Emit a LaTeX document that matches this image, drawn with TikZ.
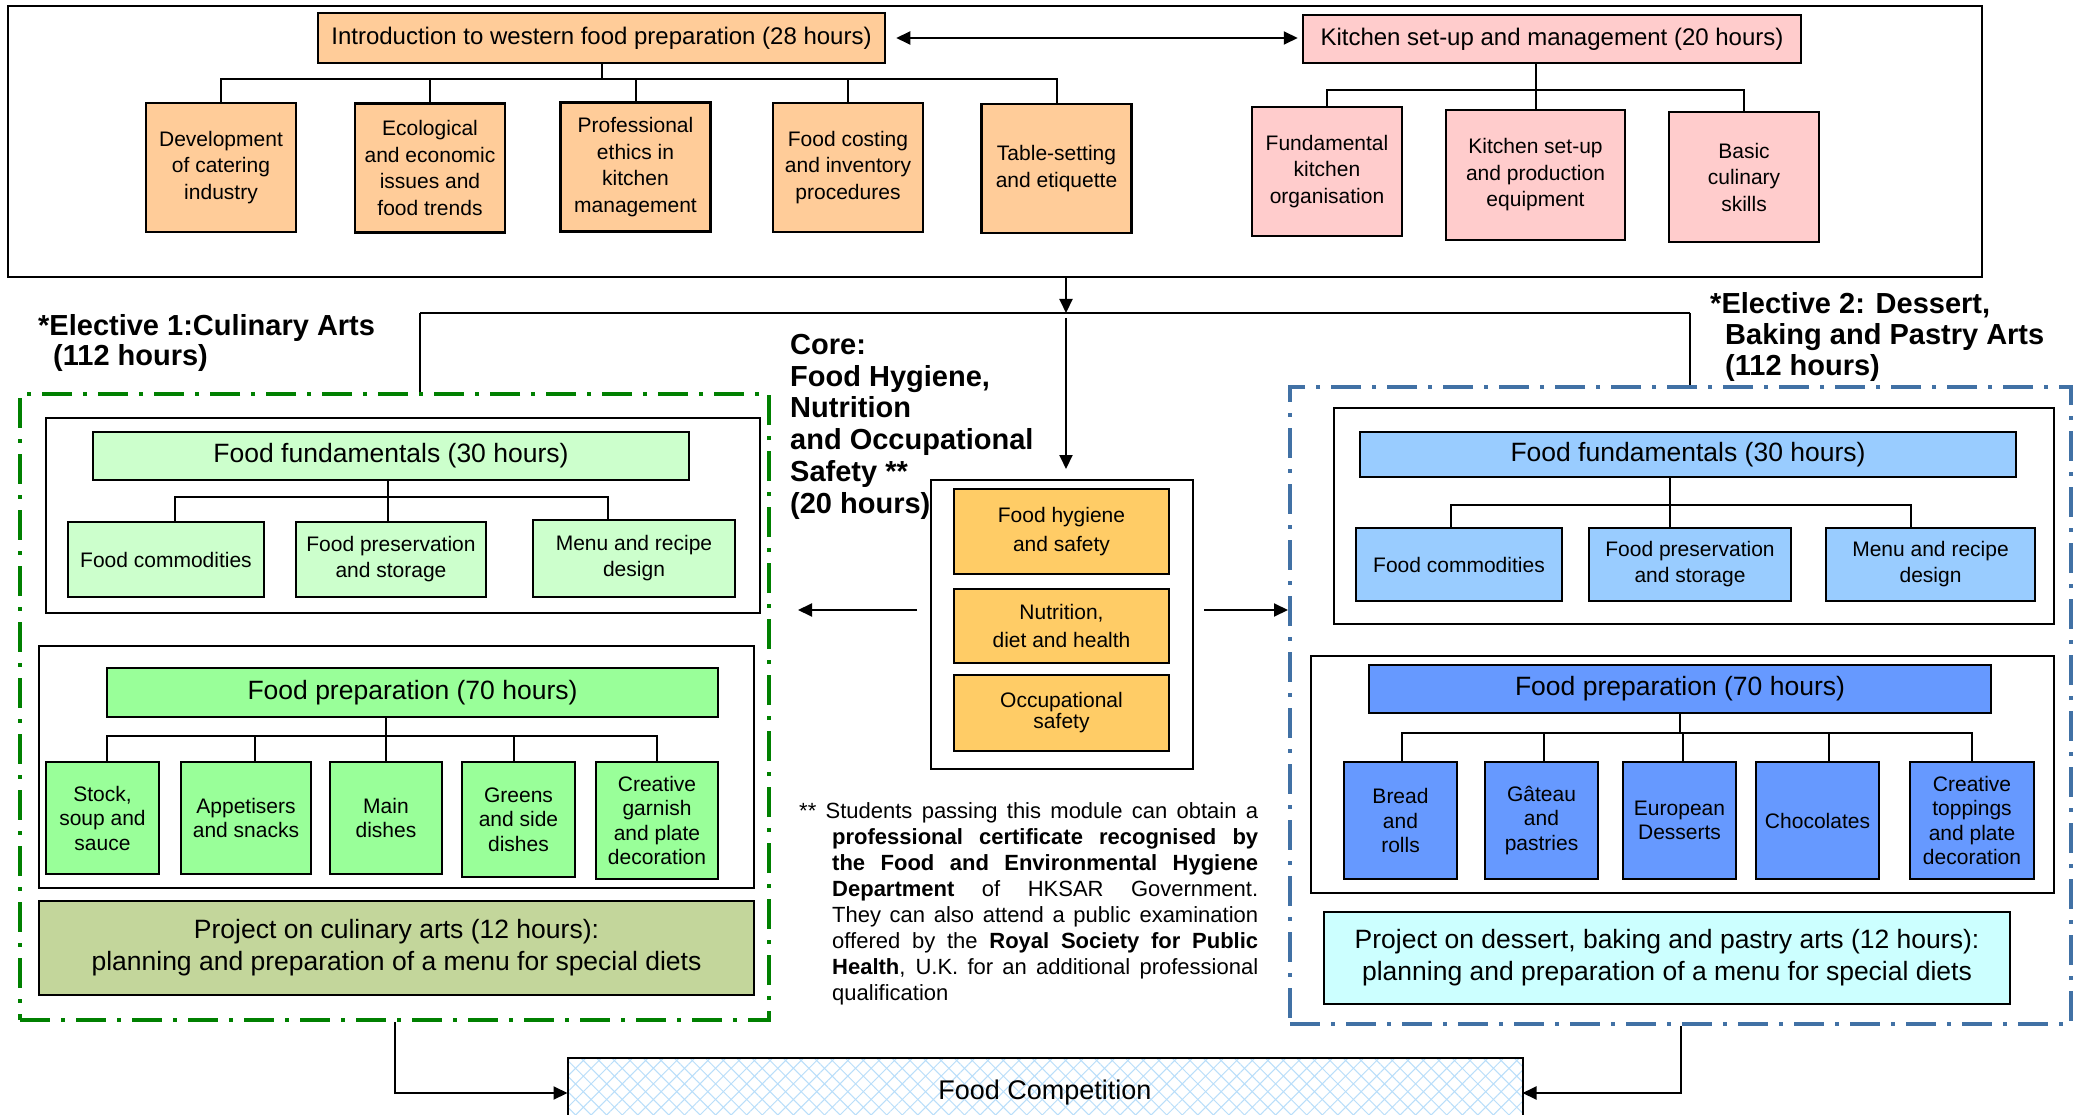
\documentclass[tikz,border=0pt]{standalone}
\usepackage{fontspec}
\setmainfont{Liberation Sans}
\usetikzlibrary{arrows.meta,patterns.meta}
\newcommand\fsz[2]{\fontsize{#1pt}{#2pt}\selectfont}
\definecolor{orng}{RGB}{255,204,153}
\definecolor{pnk}{RGB}{255,204,204}
\definecolor{corec}{RGB}{255,204,102}
\definecolor{lgreen}{RGB}{204,255,204}
\definecolor{mgreen}{RGB}{153,255,153}
\definecolor{olivec}{RGB}{195,214,155}
\definecolor{lblue}{RGB}{153,204,255}
\definecolor{mblue}{RGB}{102,153,255}
\definecolor{cyanl}{RGB}{204,255,255}
\definecolor{dgreen}{RGB}{0,128,0}
\definecolor{dblue}{RGB}{65,113,165}
\definecolor{hatchc}{RGB}{185,222,250}
\tikzset{
  bx/.style={draw, line width=2.5pt, inner sep=0pt, align=center, font=\fsz{21}{26}},
  hd/.style={bx, font=\fsz{26.5}{30}},
  cn/.style={line width=2pt},
  arr/.style={line width=2pt, -{Triangle[length=14pt,width=13pt]}},
  wbox/.style={draw, line width=2.5pt, inner sep=0pt},
  dd/.style={line width=4pt, dash pattern=on 30pt off 11pt on 4pt off 11pt},
  lbl/.style={anchor=base west, align=left, inner sep=0pt},
}
\begin{document}
\begin{tikzpicture}[x=1pt,y=-1pt]
\useasboundingbox (0,0) rectangle (2078,1115);
\fill[white] (0,0) rectangle (2078,1115);
\clip (0,0) rectangle (2078,1115);

% ---------------- top panel ----------------
\node[draw, line width=1.5pt, minimum width=1974, minimum height=271, inner sep=0pt] (top) at (995,141.5) {};
\node[bx, font=\fsz{24}{28}, fill=orng, minimum width=567, minimum height=50] (intro) at (601.5,38) {Introduction to western food preparation (28 hours)};
\node[bx, font=\fsz{24}{28}, fill=pnk, minimum width=498, minimum height=48] (kitchen) at (1552,39) {Kitchen set-up and management (20 hours)};

\tikzset{tb/.style={bx, font=\fsz{21}{26.5}, minimum width=150, minimum height=129}}
\node[tb, fill=orng] (tc1) at (221,167.5) {Development\\of catering\\industry};
\node[tb, fill=orng] (tc2) at (430,168) {Ecological\\and economic\\issues and\\food trends};
\node[tb, fill=orng] (tc3) at (635.5,167) {Professional\\ethics in\\kitchen\\management};
\node[tb, fill=orng] (tc4) at (848,167.5) {Food costing\\and inventory\\procedures};
\node[tb, fill=orng] (tc5) at (1056.5,168.5) {Table-setting\\and etiquette};
\node[tb, fill=pnk] (tk1) at (1327,171.5) {Fundamental\\kitchen\\organisation};
\node[tb, fill=pnk, minimum width=179, minimum height=130] (tk2) at (1535.5,175) {Kitchen set-up\\and production\\equipment};
\node[tb, fill=pnk, minimum height=130] (tk3) at (1744,177) {Basic\\culinary\\skills};

\coordinate (bus1) at (0,79);
\coordinate (bus2) at (0,90);
\foreach \c in {tc1,tc2,tc3,tc4,tc5}
  \draw[cn] (intro.south) -- (intro.south |- bus1) -| (\c.north);
\draw[cn] (tk2.north) -- (tk2.north |- kitchen.south);
\draw[cn] (tk2.north |- bus2) -| (tk1.north);
\draw[cn] (tk2.north |- bus2) -| (tk3.north);

\draw[line width=2pt, {Triangle[length=14pt,width=13pt]}-{Triangle[length=14pt,width=13pt]}, shorten <=10pt, shorten >=4pt] (intro.east) -- (intro.east -| kitchen.west);

% ---------------- frames ----------------
\node[draw=dgreen, dd, minimum width=749, minimum height=626, inner sep=0pt] (gbox) at (394.5,707) {};
\node[draw=dblue, dd, minimum width=781, minimum height=637, inner sep=0pt] (bbox) at (1680.5,705.5) {};

% ---------------- middle connectors ----------------
\coordinate (hj) at (1066,313);
\coordinate (hl) at (420,313);
\coordinate (hr) at (1690,313);
\draw[arr] (top.south -| hj) -- (hj);
\draw[cn] (hl) -- (hr);
\draw[cn] (hl) -- (hl |- gbox.north);
\draw[cn] (hr) -- (hr |- bbox.north);

% ---------------- core ----------------
\node[wbox, line width=2pt, minimum width=262, minimum height=289] (core) at (1062,624.5) {};
\draw[arr, shorten >=10pt] ([yshift=-5pt]hj) -- (hj |- core.north);
\node[bx, fill=corec, minimum width=215, minimum height=85, font=\fsz{21}{29}] (c1) at (1061.5,531.5) {Food hygiene\\and safety};
\node[bx, fill=corec, minimum width=215, minimum height=74, font=\fsz{21}{28}] (c2) at (1061.5,626) {Nutrition,\\diet and health};
\node[bx, fill=corec, minimum width=215, minimum height=76, font=\fsz{21}{21}] (c3) at (1061.5,713) {Occupational\\safety};
\node[lbl, font=\bfseries\fsz{29}{31.7}] (corelbl) at (790,513) {Core:\\Food Hygiene,\\Nutrition\\and Occupational\\Safety **\\(20 hours)};
\coordinate (lt) at (798,610);
\draw[arr, shorten <=13pt] (core.west |- lt) -- (lt);
\draw[arr, shorten <=10pt] (core.east |- lt) -- (bbox.west |- lt);

% ---------------- elective labels ----------------
\node[lbl, font=\bfseries\fsz{29}{30}] (e1) at (38,365) {*Elective 1:Culinary Arts\\\hspace*{15pt}(112 hours)};
\node[lbl, font=\bfseries\fsz{29}{31}] (e2) at (1710,375) {*Elective 2: Dessert,\\\hspace*{15pt}Baking and Pastry Arts\\\hspace*{15pt}(112 hours)};

% ---------------- green elective ----------------
\node[wbox, minimum width=714, minimum height=195] (gfbox) at (403,515.5) {};
\node[hd, fill=lgreen, minimum width=596, minimum height=48] (gfh) at (391,456) {Food fundamentals (30 hours)};
\node[bx, fill=lgreen, minimum width=196, minimum height=75] (gf1) at (166,559.5) {Food commodities};
\node[bx, fill=lgreen, minimum width=190, minimum height=75] (gf2) at (391,559.5) {Food preservation\\and storage};
\node[bx, fill=lgreen, minimum width=202, minimum height=77] (gf3) at (634,558.5) {Menu and recipe\\design};
\coordinate (bus3) at (0,497);
\draw[cn] ([xshift=-3pt]gfh.south) -- ([xshift=-3pt]gfh.south |- bus3) -| ([xshift=9pt]gf1.north);
\draw[cn] ([xshift=-3pt]gfh.south) -- ([xshift=-3pt]gf2.north);
\draw[cn] ([xshift=-3pt]gfh.south |- bus3) -| ([xshift=-26pt]gf3.north);

\node[wbox, minimum width=715, minimum height=242] (gpbox) at (396.5,767) {};
\node[hd, fill=mgreen, minimum width=611, minimum height=49] (gph) at (412.5,692.5) {Food preparation (70 hours)};
\tikzset{gb/.style={bx, fill=mgreen, font=\fsz{21}{24.5}, minimum height=112}}
\node[gb, minimum width=113] (gp1) at (102.5,818) {Stock,\\soup and\\sauce};
\node[gb, minimum width=130] (gp2) at (246,818) {Appetisers\\and snacks};
\node[gb, minimum width=112] (gp3) at (386,818) {Main\\dishes};
\node[gb, minimum width=113, minimum height=115] (gp4) at (518.5,819.5) {Greens\\and side\\dishes};
\node[gb, minimum width=122, minimum height=117] (gp5) at (657,820.5) {Creative\\garnish\\and plate\\decoration};
\coordinate (bus4) at (0,736);
\draw[cn] (gp3.north) -- (gp3.north |- gph.south);
\draw[cn] (gp3.north |- bus4) -| ([xshift=4.5pt]gp1.north);
\draw[cn] (gp3.north |- bus4) -| ([xshift=9pt]gp2.north);
\draw[cn] (gp3.north |- bus4) -| ([xshift=-4.5pt]gp4.north);
\draw[cn] (gp3.north |- bus4) -| (gp5.north);

\node[bx, fill=olivec, minimum width=715, minimum height=94, font=\fsz{26.5}{32}] (gproj) at (396.5,948) {Project on culinary arts (12 hours):\\planning and preparation of a menu for special diets};

% ---------------- blue elective ----------------
\node[wbox, minimum width=720, minimum height=216] (bfbox) at (1694,516) {};
\node[hd, fill=lblue, minimum width=656, minimum height=45] (bfh) at (1688,454.5) {Food fundamentals (30 hours)};
\node[bx, fill=lblue, minimum width=206, minimum height=73] (bf1) at (1459,564.5) {Food commodities};
\node[bx, fill=lblue, minimum width=202, minimum height=73] (bf2) at (1690,564.5) {Food preservation\\and storage};
\node[bx, fill=lblue, minimum width=209, minimum height=73] (bf3) at (1930.5,564.5) {Menu and recipe\\design};
\coordinate (bus5) at (0,505);
\draw[cn] ([xshift=-20pt]bf2.north) -- ([xshift=-20pt]bf2.north |- bfh.south);
\draw[cn] ([xshift=-20pt]bf2.north |- bus5) -| ([xshift=-8pt]bf1.north);
\draw[cn] ([xshift=-20pt]bf2.north |- bus5) -| ([xshift=-20pt]bf3.north);

\node[wbox, minimum width=743, minimum height=237] (bpbox) at (1682.5,774.5) {};
\node[hd, fill=mblue, minimum width=622, minimum height=48] (bph) at (1680,689) {Food preparation (70 hours)};
\tikzset{bb/.style={bx, fill=mblue, font=\fsz{21}{24.5}, minimum height=117}}
\node[bb, minimum width=113] (bp1) at (1400.5,820.5) {Bread\\and\\rolls};
\node[bb, minimum width=113] (bp2) at (1541.5,820.5) {Gâteau\\and\\pastries};
\node[bb, minimum width=113] (bp3) at (1679.5,820.5) {European\\Desserts};
\node[bb, minimum width=123] (bp4) at (1817.5,820.5) {Chocolates};
\node[bb, minimum width=124] (bp5) at (1972,820.5) {Creative\\toppings\\and plate\\decoration};
\coordinate (bus6) at (0,733);
\draw[cn] (bph.south) -- (bph.south |- bus6);
\draw[cn] (bph.south |- bus6) -| ([xshift=1.5pt]bp1.north);
\draw[cn] (bph.south |- bus6) -| ([xshift=2.5pt]bp2.north);
\draw[cn] (bph.south |- bus6) -| ([xshift=3.5pt]bp3.north);
\draw[cn] (bph.south |- bus6) -| ([xshift=11.5pt]bp4.north);
\draw[cn] (bph.south |- bus6) -| (bp5.north);

\node[bx, fill=cyanl, minimum width=686, minimum height=92, font=\fsz{26.5}{32}] (bproj) at (1667,958) {Project on dessert, baking and pastry arts (12 hours):\\planning and preparation of a menu for special diets};

% ---------------- footnote ----------------
\node[lbl, font=\fsz{22}{26}] (note) at (799,1000) {%
\makebox[459pt][s]{** Students passing this module can obtain a}\\
\hspace*{33pt}\makebox[426pt][s]{\bfseries professional certificate recognised by}\\
\hspace*{33pt}\makebox[426pt][s]{\bfseries the Food and Environmental Hygiene}\\
\hspace*{33pt}\makebox[426pt][s]{\textbf{Department} of HKSAR Government.}\\
\hspace*{33pt}\makebox[426pt][s]{They can also attend a public examination}\\
\hspace*{33pt}\makebox[426pt][s]{offered by the \textbf{Royal Society for Public}}\\
\hspace*{33pt}\makebox[426pt][s]{\textbf{Health}, U.K. for an additional professional}\\
\hspace*{33pt}qualification};

% ---------------- food competition ----------------
\node[minimum width=954, minimum height=70, inner sep=0pt, font=\fsz{27}{30},
  pattern={Lines[angle=45,distance=11pt,line width=1pt]}, pattern color=hatchc,
  postaction={pattern={Lines[angle=-45,distance=11pt,line width=1pt]}, pattern color=hatchc}] (comp) at (1045,1093) {Food Competition};
\draw[line width=2pt] (comp.south west) -- (comp.north west) -- (comp.north east) -- (comp.south east);
\draw[arr] (gbox.south) |- (comp.west);
\draw[arr] (bbox.south) |- (comp.east);
\end{tikzpicture}
\end{document}
